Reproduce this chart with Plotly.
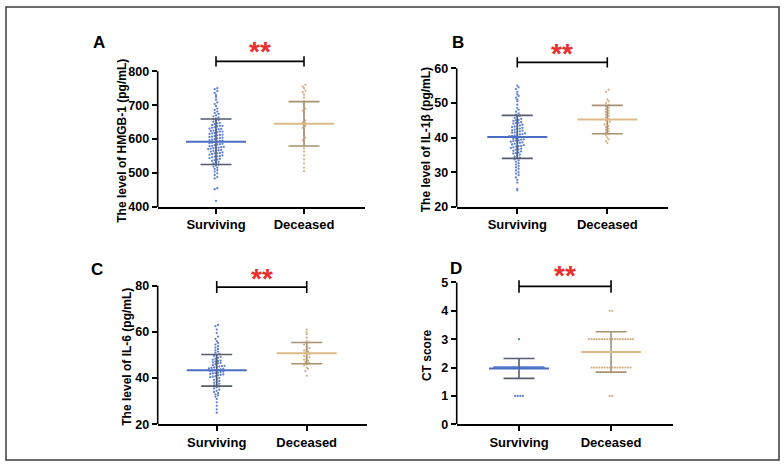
import numpy as np
import plotly.graph_objects as go

# ---------------- data ----------------
groups = ["Surviving", "Deceased"]
letters = ["A", "B", "C", "D"]
y_titles = ["The level of HMGB-1 (pg/mL)", "The level of IL-1β (pg/mL)",
            "The level of IL-6 (pg/mL)", "CT score"]

A_surv = [750, 747, 742, 736, 730, 724, 716, 708, 703, 697, 690, 686, 681, 677, 674, 670, 667,
          664, 661, 659, 656, 653, 651, 648, 646, 644, 641, 639, 637, 635, 633, 631, 629, 627,
          625, 624, 622, 620, 618, 617, 615, 613, 611, 609, 607, 606, 604, 602, 600, 598, 597,
          595, 593, 591, 589, 588, 586, 584, 582, 580, 579, 577, 575, 573, 572, 570, 568, 566,
          565, 563, 561, 559, 558, 556, 554, 552, 550, 548, 546, 544, 542, 540, 538, 536, 533,
          531, 528, 525, 522, 519, 516, 512, 508, 504, 499, 494, 488, 484, 455, 452, 418,
          630, 622, 612, 603, 594, 585, 576, 567, 558, 549, 639, 575]
A_dec = [760, 755, 750, 743, 738, 731, 722, 712, 702, 695, 689, 684, 678, 671, 662, 655, 649,
         646, 643, 639, 633, 626, 619, 612, 604, 596, 589, 580, 572, 563, 552, 540, 528, 516, 505]

B_surv = [55, 54.5, 54, 53.2, 52.5, 52, 51.5, 51, 50.5, 49.5, 48.5, 48, 47.5, 47, 46.6, 46.3,
          46, 45.7, 45.4, 45.1, 44.8, 44.5, 44.2, 44, 43.7, 43.5, 43.2, 43, 42.8, 42.5, 42.3,
          42, 41.8, 41.6, 41.4, 41.2, 41, 40.8, 40.6, 40.4, 40.2, 40, 39.8, 39.6, 39.4, 39.2,
          39, 38.8, 38.6, 38.4, 38.2, 38, 37.8, 37.6, 37.4, 37.2, 37, 36.8, 36.5, 36.2, 36,
          35.7, 35.4, 35.1, 34.8, 34.5, 34.2, 34, 33.7, 33.4, 33, 32.6, 32.2, 31.8, 31.4, 31,
          30.5, 30, 29.6, 29.2, 28.5, 27.8, 27, 25.2, 24.8,
          45, 44.3, 43.3, 42.6, 41.5, 40.5, 39.5, 38.5, 37.5, 36.6, 35.5, 42.1, 40.9, 39.1]
B_dec = [53.8, 53.2, 51, 50.5, 50, 49.5, 49, 48.6, 48.2, 47.8, 47.4, 47, 46.6, 46.2, 45.8,
         45.4, 45, 44.6, 44.2, 43.8, 43.4, 43, 42.6, 42.2, 41.8, 41.4, 41, 40.6, 40, 39.5, 39, 38.4]

C_surv = [63, 62.5, 61, 59.5, 58, 57, 56, 55.2, 54.5, 53.8, 53.2, 52.6, 52, 51.5, 51, 50.5,
          50, 49.6, 49.2, 48.8, 48.4, 48, 47.6, 47.2, 46.8, 46.4, 46, 45.6, 45.2, 44.8, 44.4,
          44, 43.6, 43.2, 42.8, 42.4, 42, 41.6, 41.2, 40.8, 40.4, 40, 39.6, 39.2, 38.8, 38.4,
          38, 37.6, 37.2, 36.8, 36.4, 36, 35.5, 35, 34.5, 34, 33.5, 33, 32.5, 32, 31, 29.5,
          28, 26.5, 25,
          45, 45.3, 44.6, 44.2, 43.8, 43.4, 43, 42.6, 42.2, 41.8, 46.6, 47.4, 41.4, 40.6]
C_dec = [61, 60, 59, 57.5, 56, 55.5, 55, 54.5, 53.5, 53, 52.5, 52, 51.5, 51, 50.5, 50, 49.5,
         49, 48.5, 48, 47.5, 47, 46.5, 46, 45.5, 44.5, 44, 43, 41]

D_scores = [1, 2, 3, 4]
D_surv_counts = [4, 105, 1, 0]
D_dec_counts = [2, 16, 18, 2]

# mean and SD
means = [[592, 645], [40.2, 45.2], [43.4, 50.8], [1.97, 2.55]]
sds = [[67, 65.5], [6.2, 4.1], [6.85, 4.6], [0.35, 0.71]]

y_ticks = [[400, 500, 600, 700, 800], [20, 30, 40, 50, 60], [20, 40, 60, 80], [0, 1, 2, 3, 4, 5]]
y_tops = [885, 67, 88, 5.6]
x_ranges = [[-0.6625, 1.693], [-0.673, 1.671], [-0.656, 1.67], [-0.677, 1.67]]
bracket_y = [829, 61.7, 79.4, 4.86]
bracket_cap = [15, 1.5, 2.6, 0.22]
star_y = [858, 64.3, 83.2, 5.26]
row_h = [8.7, 0.85, 1.28, 0.1]
swarm_half = [0.17, 0.17, 0.17, 0.27]

# pixel geometry
W, H = 784, 472
dom_x = [(157.7, 365), (456.7, 667.7), (157.7, 367), (456.7, 672.7)]
axis_px = [(72.3, 210), (69.3, 210), (290, 430.7), (286.7, 430.7)]  # (top tick px, bottom px)
title_shift = [-36, -31, -31, -29]
letter_pos = [(98.5, 43.5), (457.5, 43.5), (96.5, 273.5), (456.5, 272.5)]

BLUE_DOT = "#5f82d2"
BLUE_MEAN = "#4a6fc2"
BLUE_SD = "#565c70"
TAN_DOT = "#d2b48a"
TAN_MEAN = "#dcbb88"
TAN_SD = "#a89272"
FONT = "Liberation Sans"


def swarm(vals, rowh, dx, maxhalf):
    vals = np.asarray(vals, float)
    bins = np.round(vals / rowh).astype(int)
    off = np.zeros(len(vals))
    for b in np.unique(bins):
        idx = np.where(bins == b)[0]
        idx = idx[np.argsort(vals[idx])]
        n = len(idx)
        step = dx if n <= 1 else min(dx, 2 * maxhalf / (n - 1))
        off[idx] = (np.arange(n) - (n - 1) / 2) * step
    return off


data = [
    (A_surv, A_dec),
    (B_surv, B_dec),
    (C_surv, C_dec),
    (np.repeat(D_scores, D_surv_counts), np.repeat(D_scores, D_dec_counts)),
]

fig = go.Figure()
shapes = []
annotations = []

for p in range(4):
    sfx = "" if p == 0 else str(p + 1)
    xa, ya = "x" + sfx, "y" + sfx
    unit_px = (dom_x[p][1] - dom_x[p][0]) / (x_ranges[p][1] - x_ranges[p][0])
    dx = 2.6 / unit_px
    hw = 30.0 / unit_px
    lo, hi = y_ticks[p][0], y_ticks[p][-1]
    ppu = (axis_px[p][1] - axis_px[p][0]) / (hi - lo)
    top_px = axis_px[p][1] - (y_tops[p] - lo) * ppu
    for g in range(2):
        vals = np.asarray(data[p][g], float)
        off = swarm(vals, row_h[p], dx, swarm_half[p])
        fig.add_trace(go.Scatter(
            x=g + off, y=vals, mode="markers", xaxis=xa, yaxis=ya,
            marker=dict(size=2.3, color=BLUE_DOT if g == 0 else TAN_DOT, line=dict(width=0)),
            showlegend=False, hoverinfo="skip"))
        fig.add_trace(go.Scatter(
            x=[g], y=[means[p][g]], mode="markers", xaxis=xa, yaxis=ya,
            marker=dict(size=1, color="rgba(0,0,0,0)"),
            error_y=dict(type="data", array=[sds[p][g]], visible=True, width=15.5,
                         thickness=1.6, color=BLUE_SD if g == 0 else TAN_SD),
            showlegend=False, hoverinfo="skip"))
        fig.add_trace(go.Scatter(
            x=[g - hw, g + hw], y=[means[p][g], means[p][g]], mode="lines",
            xaxis=xa, yaxis=ya,
            line=dict(color=BLUE_MEAN if g == 0 else TAN_MEAN, width=2),
            showlegend=False, hoverinfo="skip"))

    fig.layout["xaxis" + sfx] = dict(
        domain=[dom_x[p][0] / W, dom_x[p][1] / W], range=x_ranges[p], anchor=ya,
        tickvals=[0, 1], ticktext=groups, showline=True, linecolor="black", linewidth=1.6,
        ticks="outside", ticklen=5, tickwidth=1.6, tickcolor="black", showgrid=False,
        zeroline=False, tickfont=dict(family=FONT, size=13, color="black", weight="bold"))
    fig.layout["yaxis" + sfx] = dict(
        domain=[1 - axis_px[p][1] / H, 1 - top_px / H], range=[lo, y_tops[p]], anchor=xa,
        tickvals=y_ticks[p], showline=False, ticks="outside", ticklen=5, tickwidth=1.6,
        tickcolor="black", showgrid=False, zeroline=False,
        tickfont=dict(family=FONT, size=12.5, color="black", weight="bold"))
    shapes.append(dict(type="line", xref=xa + " domain", yref=ya, x0=0, x1=0,
                       y0=lo, y1=hi, line=dict(color="black", width=1.6)))
    by, bc = bracket_y[p], bracket_cap[p]
    shapes.append(dict(type="path", xref=xa, yref=ya,
                       path=f"M 0 {by} L 1 {by} M 0 {by - bc} L 0 {by + bc} M 1 {by - bc} L 1 {by + bc}",
                       line=dict(color="black", width=1.6)))
    annotations.append(dict(xref=xa, yref=ya, x=0.5, y=star_y[p], text="**", showarrow=False,
                            font=dict(family=FONT, size=28, color="#e8302e", weight="bold"),
                            xanchor="center", yanchor="middle"))
    annotations.append(dict(xref=xa + " domain", yref=ya, x=0, y=(lo + hi) / 2,
                            xshift=title_shift[p], yshift=-2, text=y_titles[p], textangle=-90,
                            showarrow=False,
                            font=dict(family=FONT, size=12, color="black", weight="bold"),
                            xanchor="center", yanchor="middle"))
    annotations.append(dict(xref="paper", yref="paper", x=letter_pos[p][0] / W,
                            y=1 - letter_pos[p][1] / H, text=letters[p], showarrow=False,
                            font=dict(family=FONT, size=17, color="black", weight="bold"),
                            xanchor="center", yanchor="middle"))

shapes.append(dict(type="rect", xref="paper", yref="paper", x0=6 / W, x1=779 / W,
                   y0=1 - 467 / H, y1=1 - 7 / H, line=dict(color="#3a3a3a", width=1.5)))

fig.update_layout(width=W, height=H, margin=dict(l=0, r=0, t=0, b=0),
                  paper_bgcolor="white", plot_bgcolor="white",
                  shapes=shapes, annotations=annotations, showlegend=False)

fig.write_html("out.html")
